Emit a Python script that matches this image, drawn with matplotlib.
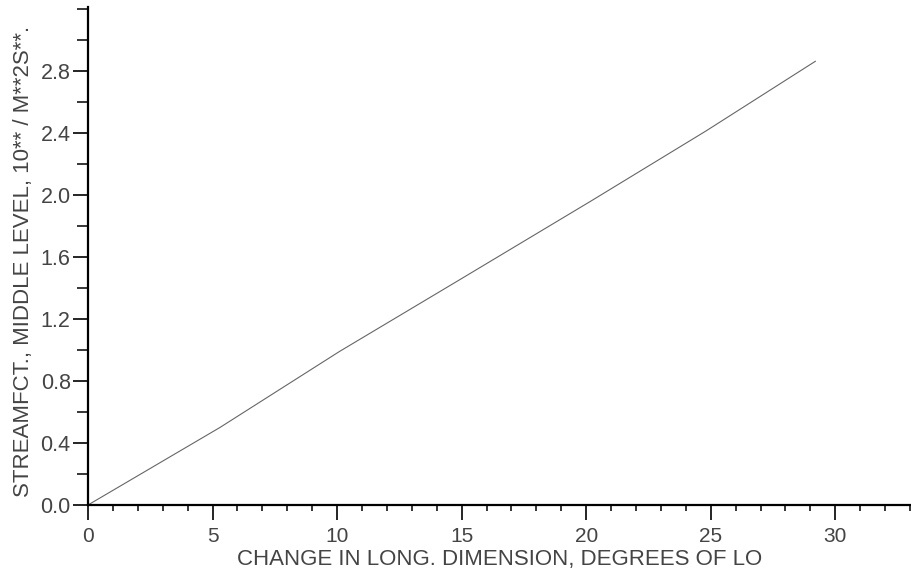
import matplotlib
matplotlib.use('Agg')
from matplotlib import pyplot as plt
from matplotlib.ticker import MultipleLocator
import numpy as np

# values
x = [0, 5.3, 10.1, 14.9, 20.2, 24.8, 29.2]
y = [0, 0.50, 0.99, 1.45, 1.96, 2.41, 2.86]

x_ticks = [0, 5, 10, 15, 20, 25, 30]
y_ticks = [0.0, 0.4, 0.8, 1.2, 1.6, 2.0, 2.4, 2.8]

plt.rcParams['font.family'] = ['Liberation Sans', 'DejaVu Sans']

fig = plt.figure(figsize=(9.11, 5.70), dpi=100)
ax = fig.add_axes([88 / 911, 65 / 570, (910 - 88) / 911, (505 - 7) / 570])

ax.plot(x, y, color='#666666', linewidth=0.8)

ax.set_xlim(0, 33)
ax.set_ylim(0, 3.21)
ax.spines['top'].set_visible(False)
ax.spines['right'].set_visible(False)
ax.spines['left'].set_linewidth(1.6)
ax.spines['bottom'].set_linewidth(1.6)

ax.set_xticks(x_ticks)
ax.set_xticklabels([str(t) for t in x_ticks])
ax.set_yticks(y_ticks)
ax.set_yticklabels(['%.1f' % t for t in y_ticks])
ax.xaxis.set_minor_locator(MultipleLocator(1))
ax.yaxis.set_minor_locator(MultipleLocator(0.2))

ax.tick_params(axis='x', which='major', direction='out', length=11, width=1.2,
               labelsize=15, pad=5, labelcolor='#444444')
ax.tick_params(axis='x', which='minor', direction='out', length=4.5, width=1.1)
ax.tick_params(axis='y', which='major', direction='out', length=10.5, width=1.2,
               labelsize=15.5, pad=2, labelcolor='#444444')
ax.tick_params(axis='y', which='minor', direction='out', length=8, width=1.1)

fig.text(500 / 911, 1 - 559 / 570, 'CHANGE IN LONG. DIMENSION, DEGREES OF LO',
         ha='center', va='center', fontsize=16, color='#444444')
fig.text(24 / 911, 1 - 497 / 570, 'STREAMFCT., MIDDLE LEVEL, 10** / M**2S**.',
         ha='center', va='bottom', rotation=90, fontsize=16, color='#444444')

plt.savefig('out.png', dpi=100)
